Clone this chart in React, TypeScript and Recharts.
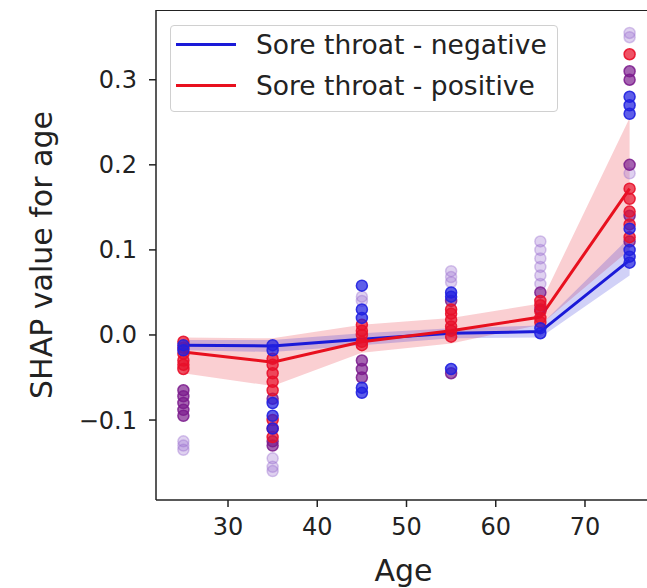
import React from "react";
import {
  ComposedChart,
  Line,
  Area,
  Scatter,
  XAxis,
  YAxis,
} from "recharts";

const ages = [25, 35, 45, 55, 65, 75];
const negMean = [-0.012, -0.013, -0.005, 0.002, 0.004, 0.088];
const posMean = [-0.02, -0.032, -0.008, 0.005, 0.021, 0.172];
const negLow = [-0.018, -0.02, -0.012, -0.004, -0.003, 0.07];
const negHigh = [-0.006, -0.006, 0.002, 0.008, 0.011, 0.115];
const posLow = [-0.045, -0.06, -0.021, -0.01, 0.012, 0.1];
const posHigh = [-0.003, -0.004, 0.012, 0.02, 0.037, 0.255];

const xTicks = [30, 40, 50, 60, 70];
const yTicks = [-0.1, 0, 0.1, 0.2, 0.3];

const blueDots: number[][] = [
  [-0.012, -0.018],
  [-0.012, -0.018, -0.08, -0.095, -0.11],
  [0.058, 0.03, 0.02, -0.062, -0.068],
  [0.05, 0.045, -0.04],
  [0.002, 0.008],
  [0.28, 0.27, 0.26, 0.1, 0.092, 0.085, 0.125],
];
const redDots: number[][] = [
  [-0.008, -0.015, -0.022, -0.03, -0.035, -0.04],
  [-0.028, -0.035, -0.045, -0.055, -0.065, -0.1, -0.11, -0.12],
  [0.012, 0.005, 0.0, -0.008, -0.012],
  [0.03, 0.025, 0.018, 0.01, 0.005, -0.002],
  [0.04, 0.035, 0.028, 0.02, 0.015],
  [0.33, 0.172, 0.16, 0.145, 0.13, 0.115],
];
const purpleDots: number[][] = [
  [-0.065, -0.072, -0.08, -0.088, -0.095],
  [-0.075, -0.125, -0.13],
  [-0.03, -0.04, -0.05],
  [-0.045, 0.04],
  [0.03, 0.05],
  [0.31, 0.3, 0.2, 0.14, 0.11],
];
const faintDots: number[][] = [
  [-0.125, -0.13, -0.135],
  [-0.145, -0.155, -0.16],
  [0.045, 0.04],
  [0.075, 0.068, 0.062],
  [0.11, 0.1, 0.09, 0.08, 0.07, 0.06],
  [0.355, 0.35, 0.19],
];

const rows = ages.map((age, i) => ({
  age,
  neg: negMean[i],
  pos: posMean[i],
  negBand: [negLow[i], negHigh[i]],
  posBand: [posLow[i], posHigh[i]],
}));

const toPoints = (groups: number[][]) =>
  groups.flatMap((vals, i) => vals.map((v) => ({ age: ages[i], v })));

const BLUE = "#1a1ad8";
const RED = "#e8101e";
const FONT = "'DejaVu Sans', sans-serif";
const INK = "#222222";

const dotShape = (color: string, opacity: number) => (props: any) => {
  const { cx, cy } = props;
  if (cx == null || cy == null) return <g />;
  return (
    <circle
      cx={cx}
      cy={cy}
      r={5.5}
      fill={color}
      fillOpacity={opacity * 0.8}
      stroke={color}
      strokeOpacity={opacity}
      strokeWidth={1.5}
    />
  );
};

const fmtY = (v: number) => {
  const s = Math.abs(v).toFixed(1);
  return v < 0 ? "\u2212" + s : s;
};

export default function App() {
  return (
    <div
      style={{
        position: "fixed",
        left: 0,
        top: 0,
        width: 647,
        height: 588,
        overflow: "hidden",
        background: "#fff",
        fontFamily: FONT,
      }}
    >
      <ComposedChart
        width={680}
        height={588}
        data={rows}
        margin={{ top: 10, right: 23, left: 0, bottom: 0 }}
      >
        <XAxis
          dataKey="age"
          type="number"
          domain={[21.93, 78.07]}
          ticks={xTicks}
          allowDataOverflow
          height={88}
          tickSize={7}
          tickMargin={11}
          stroke={INK}
          strokeWidth={1.5}
          tick={{ fill: INK, fontSize: 24, fontFamily: FONT }}
          label={{
            content: (p: any) => (
              <text
                x={p.viewBox.x + p.viewBox.width / 2 - 3}
                y={581}
                textAnchor="middle"
                fontSize={30}
                fontFamily={FONT}
                fill={INK}
              >
                Age
              </text>
            ),
          }}
        />
        <YAxis
          type="number"
          domain={[-0.194, 0.382]}
          ticks={yTicks}
          allowDataOverflow
          width={156}
          tickSize={7}
          tickMargin={12}
          tickFormatter={fmtY}
          stroke={INK}
          strokeWidth={1.5}
          tick={{ fill: INK, fontSize: 24, fontFamily: FONT }}
          label={{
            content: (p: any) => {
              const cy = p.viewBox.y + p.viewBox.height / 2;
              return (
                <text
                  x={52}
                  y={cy}
                  transform={`rotate(-90 52 ${cy})`}
                  textAnchor="middle"
                  fontSize={30}
                  fontFamily={FONT}
                  fill={INK}
                >
                  SHAP value for age
                </text>
              );
            },
          }}
        />
        <Area
          type="linear"
          dataKey="posBand"
          fill={RED}
          fillOpacity={0.2}
          stroke="none"
          isAnimationActive={false}
          activeDot={false}
        />
        <Area
          type="linear"
          dataKey="negBand"
          fill={BLUE}
          fillOpacity={0.2}
          stroke="none"
          isAnimationActive={false}
          activeDot={false}
        />
        <Line
          type="linear"
          dataKey="neg"
          stroke={BLUE}
          strokeWidth={3}
          dot={false}
          activeDot={false}
          isAnimationActive={false}
        />
        <Line
          type="linear"
          dataKey="pos"
          stroke={RED}
          strokeWidth={3}
          dot={false}
          activeDot={false}
          isAnimationActive={false}
        />
        <Scatter
          data={toPoints(faintDots)}
          dataKey="v"
          shape={dotShape("#9a70d0", 0.4)}
          isAnimationActive={false}
        />
        <Scatter
          data={toPoints(purpleDots)}
          dataKey="v"
          shape={dotShape("#7a1a8c", 0.85)}
          isAnimationActive={false}
        />
        <Scatter
          data={toPoints(redDots)}
          dataKey="v"
          shape={dotShape("#e8102a", 0.9)}
          isAnimationActive={false}
        />
        <Scatter
          data={toPoints(blueDots)}
          dataKey="v"
          shape={dotShape("#2020e0", 0.9)}
          isAnimationActive={false}
        />
      </ComposedChart>
      <div
        style={{
          position: "absolute",
          left: 156,
          top: 10,
          width: 520,
          height: 0,
          borderTop: "1.5px solid " + INK,
        }}
      />
      <div
        style={{
          position: "absolute",
          left: 170,
          top: 25,
          width: 388,
          height: 87,
          border: "1px solid #d0d0d0",
          borderRadius: 4,
          background: "rgba(255,255,255,0.85)",
          boxSizing: "border-box",
        }}
      >
        {[
          { label: "Sore throat - negative", color: BLUE, y: 18 },
          { label: "Sore throat - positive", color: RED, y: 59 },
        ].map((it) => (
          <div
            key={it.label}
            style={{
              position: "absolute",
              left: 5,
              top: it.y - 16,
              height: 32,
              display: "flex",
              alignItems: "center",
            }}
          >
            <div
              style={{ width: 60, height: 3, background: it.color, marginRight: 20 }}
            />
            <span style={{ fontSize: 26.5, color: INK, fontFamily: FONT, whiteSpace: "nowrap" }}>
              {it.label}
            </span>
          </div>
        ))}
      </div>
    </div>
  );
}
